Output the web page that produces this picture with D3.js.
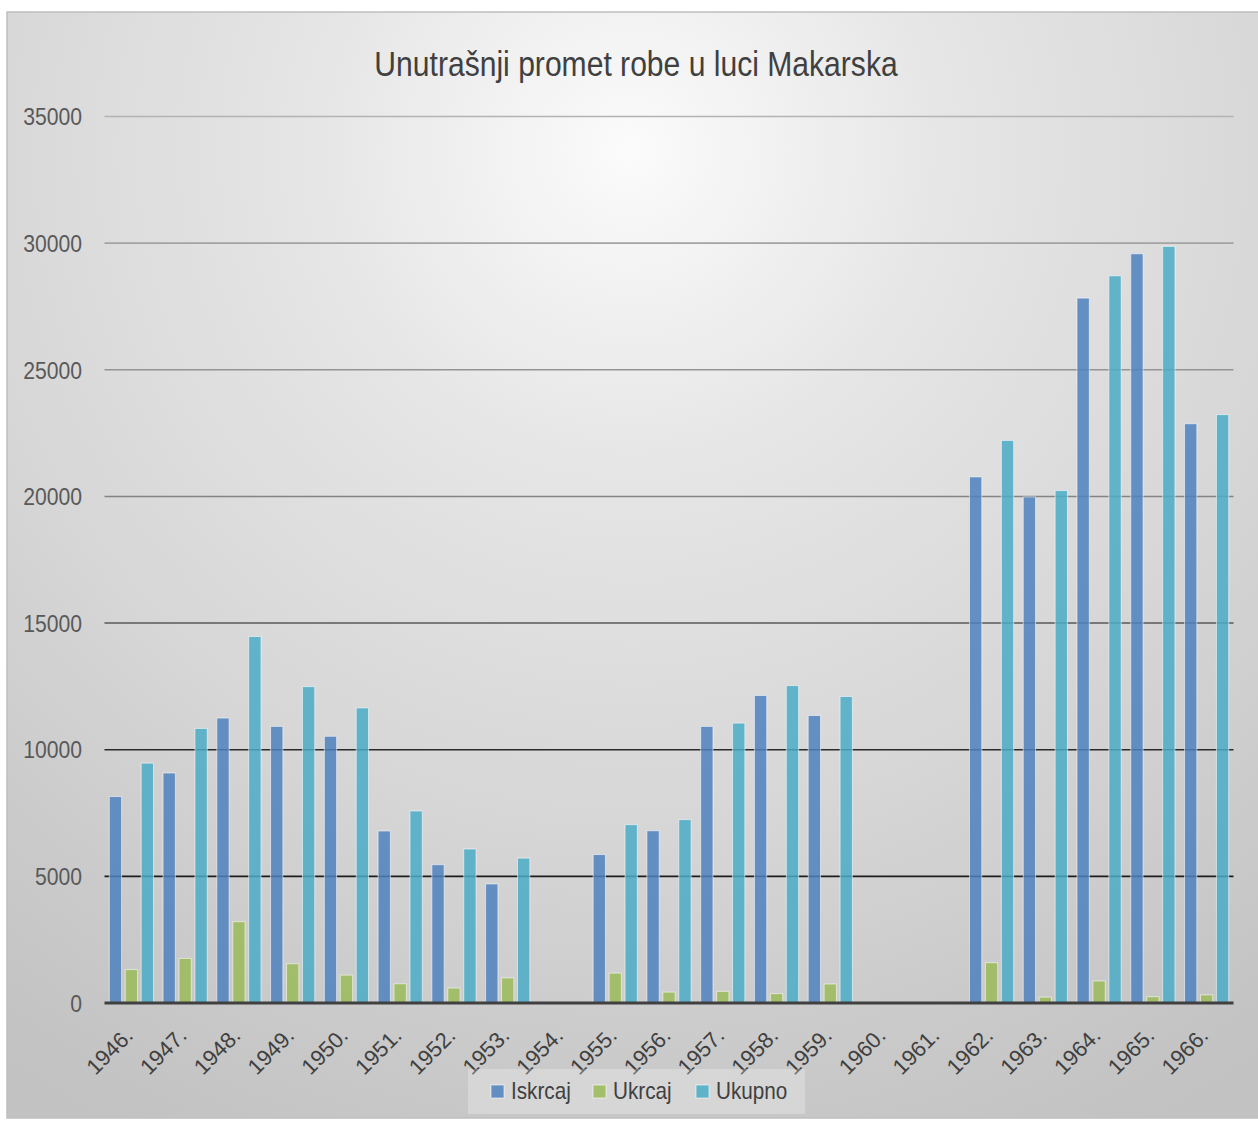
<!DOCTYPE html>
<html>
<head>
<meta charset="utf-8">
<script src="https://cdn.jsdelivr.net/npm/d3@7"></script>
<style>
  html, body { margin: 0; padding: 0; background: #ffffff; }
  svg { display: block; }
  text { font-family: "Liberation Sans", Arial, sans-serif; }
</style>
</head>
<body>
<svg id="chart" width="1258" height="1122"></svg>
<script>
// ---- data ----
const title = "Unutrašnji promet robe u luci Makarska";
const categories = ["1946.","1947.","1948.","1949.","1950.","1951.","1952.","1953.","1954.","1955.","1956.","1957.","1958.","1959.","1960.","1961.","1962.","1963.","1964.","1965.","1966."];
const seriesNames = ["Iskrcaj", "Ukrcaj", "Ukupno"];
const iskrcaj = [8150, 9080, 11250, 10920, 10530, 6790, 5460, 4700, null, 5860, 6800, 10920, 12140, 11350, null, null, 20770, 19980, 27830, 29580, 22870];
const ukrcaj  = [1320, 1760, 3210, 1550, 1100, 760, 590, 990, null, 1180, 430, 460, 370, 750, null, null, 1590, 230, 870, 250, 320];
const ukupno  = [9470, 10840, 14470, 12490, 11650, 7580, 6080, 5720, null, 7040, 7240, 11050, 12530, 12100, null, null, 22210, 20230, 28710, 29870, 23230];
const yTicks = [0, 5000, 10000, 15000, 20000, 25000, 30000, 35000];
const seriesColors = ["#4f81bd", "#9bbb59", "#4bacc6"];

const seriesValues = [iskrcaj, ukrcaj, ukupno];

const svg = d3.select("#chart");
const defs = svg.append("defs");

// background gradient
const bg = defs.append("radialGradient").attr("id", "bg")
  .attr("gradientUnits", "userSpaceOnUse")
  .attr("cx", 630).attr("cy", 150).attr("r", 1100);
[[0, "#fbfbfb"], [0.3, "#e5e5e5"], [0.6, "#d7d7d7"], [0.85, "#c9c9c9"], [1, "#c2c2c2"]]
  .forEach(([o, c]) => bg.append("stop").attr("offset", o).attr("stop-color", c));

svg.append("rect").attr("x", 7).attr("y", 12).attr("width", 1270).attr("height", 1106)
  .attr("fill", "url(#bg)").attr("stroke", "#bfbfbf").attr("stroke-width", 1.5);

// scales
const x0 = d3.scaleBand().domain(categories).range([104.5, 1233.5]).padding(0);
const x1 = d3.scaleBand().domain(seriesNames).range([4.8, x0.bandwidth() - 4.8]).paddingInner(0.23).paddingOuter(0);
const y = d3.scaleLinear().domain([0, 35000]).range([1003, 116.5]);

// gridlines
const gridColor = d3.scaleLinear()
  .domain([5000, 10000, 15000, 20000, 35000])
  .range(["#1c1c1c", "#2a2a2a", "#585858", "#848484", "#b3b3b3"]);

const yAxis = d3.axisLeft(y).tickValues(yTicks).tickSize(0).tickPadding(0).tickFormat(d3.format("d"));
const yg = svg.append("g").attr("transform", "translate(82,0)").call(yAxis);
yg.select(".domain").remove();
yg.selectAll(".tick text")
  .attr("font-size", 23.5).attr("fill", "#595959").attr("dy", "0.35em").attr("x", 0)
  .attr("transform", "scale(0.9,1)");

svg.append("g").selectAll("line").data(yTicks.filter(d => d > 0)).join("line")
  .attr("x1", 104.5).attr("x2", 1233.5)
  .attr("y1", d => y(d)).attr("y2", d => y(d))
  .attr("stroke", d => gridColor(d)).attr("stroke-width", 1.6);

// bars
const groups = svg.append("g").selectAll("g").data(categories).join("g")
  .attr("transform", d => `translate(${x0(d)},0)`);
groups.selectAll("rect")
  .data((d, i) => seriesNames.map((s, k) => ({ s, k, v: seriesValues[k][i] })).filter(o => o.v != null))
  .join("rect")
  .attr("x", o => x1(o.s))
  .attr("width", x1.bandwidth())
  .attr("y", o => y(o.v))
  .attr("height", o => y(0) - y(o.v))
  .attr("fill", o => seriesColors[o.k])
  .attr("fill-opacity", 0.85)
  .attr("stroke", "rgba(255,255,255,0.55)")
  .attr("stroke-width", 1);

// x axis
const xAxis = d3.axisBottom(x0).tickSize(0).tickPadding(0);
const xg = svg.append("g").attr("transform", `translate(0,${y(0)})`).call(xAxis);
xg.select(".domain").attr("stroke", "#404040").attr("stroke-width", 3.2).attr("d", `M104.5,0H1233.5`);
xg.selectAll(".tick text")
  .attr("font-size", 22).attr("fill", "#404040")
  .attr("text-anchor", "end")
  .attr("transform", "translate(3,34) rotate(-45)")
  .attr("y", 0).attr("dy", 0);

// title
svg.append("g").attr("transform", "translate(636,76) scale(0.86,1)")
  .append("text").attr("x", 0).attr("y", 0).attr("text-anchor", "middle")
  .attr("font-size", 35).attr("fill", "#404040").text(title);

// legend
const lg = svg.append("g");
lg.append("rect").attr("x", 468).attr("y", 1069).attr("width", 337).attr("height", 45)
  .attr("fill", "#ffffff").attr("fill-opacity", 0.25);
const legendX = [491, 593, 696];
seriesNames.forEach((s, k) => {
  lg.append("rect").attr("x", legendX[k]).attr("y", 1085).attr("width", 13).attr("height", 13)
    .attr("fill", seriesColors[k]).attr("fill-opacity", 0.85)
    .attr("stroke", "rgba(255,255,255,0.6)").attr("stroke-width", 1);
  lg.append("g").attr("transform", `translate(${legendX[k] + 20},1099) scale(0.9,1)`)
    .append("text").attr("x", 0).attr("y", 0)
    .attr("font-size", 23).attr("fill", "#404040").text(s);
});
</script>
</body>
</html>
